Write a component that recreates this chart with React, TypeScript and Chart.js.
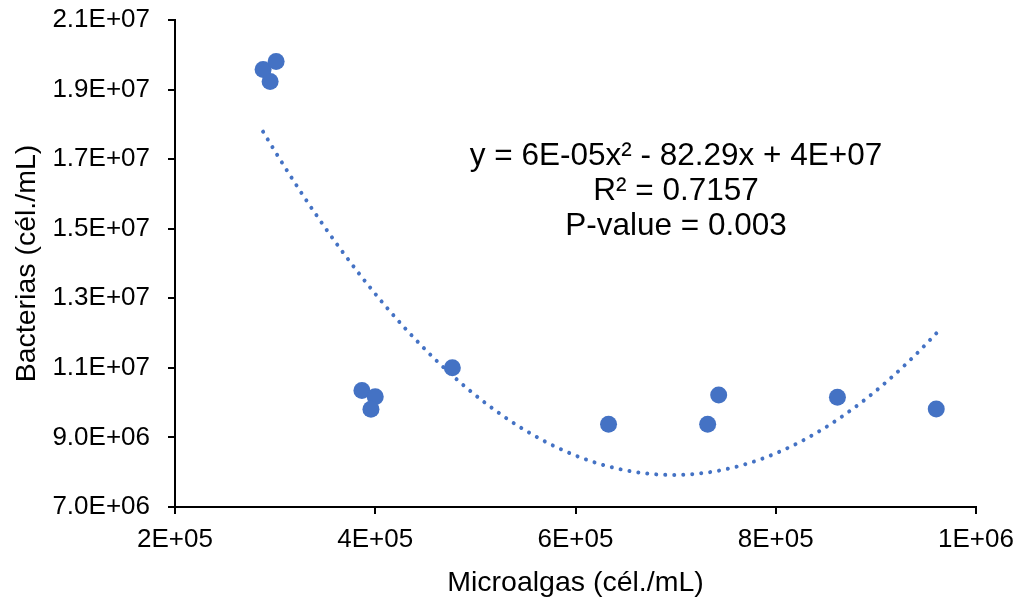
import React, { useEffect, useRef } from "react";
import { Chart, registerables } from "chart.js";

Chart.register(...registerables);

const microalgas: number[] = [288000, 301000, 295000, 386700, 400000, 395700, 477000, 633000, 732000, 743000, 861600, 960300];
const bacterias: number[] = [19580000, 19810000, 19230000, 10347000, 10170000, 9810000, 11000000, 9380000, 9380000, 10223000, 10157000, 9820000];

const xTickLabels: string[] = ["2E+05", "4E+05", "6E+05", "8E+05", "1E+06"];
const yTickLabels: string[] = ["7.0E+06", "9.0E+06", "1.1E+07", "1.3E+07", "1.5E+07", "1.7E+07", "1.9E+07", "2.1E+07"];

const annotationLines: string[] = ["y = 6E-05x² - 82.29x + 4E+07", "R² = 0.7157", "P-value = 0.003"];

const xTitle = "Microalgas (cél./mL)";
const yTitle = "Bacterias (cél./mL)";

const BLUE = "#4472C4";
const FONT = "'Liberation Sans', Arial, sans-serif";

// least-squares quadratic fit (Excel polynomial trendline, order 2)
function quadFit(xs: number[], ys: number[]) {
  const n = xs.length;
  const mx = xs.reduce((a, b) => a + b, 0) / n;
  const sx = 1e5;
  const u = xs.map((x) => (x - mx) / sx);
  let s1 = 0, s2 = 0, s3 = 0, s4 = 0, t0 = 0, t1 = 0, t2 = 0;
  for (let i = 0; i < n; i++) {
    const v = u[i], y = ys[i];
    s1 += v; s2 += v * v; s3 += v * v * v; s4 += v * v * v * v;
    t0 += y; t1 += v * y; t2 += v * v * y;
  }
  const M = [
    [n, s1, s2, t0],
    [s1, s2, s3, t1],
    [s2, s3, s4, t2],
  ];
  for (let c = 0; c < 3; c++) {
    let p = c;
    for (let r = c + 1; r < 3; r++) if (Math.abs(M[r][c]) > Math.abs(M[p][c])) p = r;
    [M[c], M[p]] = [M[p], M[c]];
    for (let r = 0; r < 3; r++) {
      if (r === c) continue;
      const f = M[r][c] / M[c][c];
      for (let k = c; k < 4; k++) M[r][k] -= f * M[c][k];
    }
  }
  return { c0: M[0][3] / M[0][0], c1: M[1][3] / M[1][1], c2: M[2][3] / M[2][2], mx, sx };
}

export default function App() {
  const ref = useRef<HTMLCanvasElement | null>(null);

  useEffect(() => {
    if (!ref.current) return;
    const { c0, c1, c2, mx, sx } = quadFit(microalgas, bacterias);
    const xmin = Math.min(...microalgas);
    const xmax = Math.max(...microalgas);
    const trend: { x: number; y: number }[] = [];
    const N = 120;
    for (let i = 0; i <= N; i++) {
      const x = xmin + ((xmax - xmin) * i) / N;
      const u = (x - mx) / sx;
      trend.push({ x, y: c0 + c1 * u + c2 * u * u });
    }

    const annotationPlugin = {
      id: "annot",
      afterDatasetsDraw(chart: any) {
        const ctx = chart.ctx;
        ctx.save();
        ctx.font = `31.5px ${FONT}`;
        ctx.fillStyle = "#000";
        ctx.textAlign = "center";
        ctx.textBaseline = "middle";
        const cx = 676;
        const ys = [156, 191, 226];
        annotationLines.forEach((t, i) => ctx.fillText(t, cx, ys[i]));
        ctx.restore();
      },
    };

    const chart = new Chart(ref.current, {
      type: "scatter",
      data: {
        datasets: [
          {
            type: "line",
            data: trend,
            borderColor: BLUE,
            borderWidth: 4,
            borderDash: [0.01, 9],
            borderCapStyle: "round",
            pointRadius: 0,
            fill: false,
            tension: 0,
            order: 2,
          } as any,
          {
            data: microalgas.map((x, i) => ({ x, y: bacterias[i] })),
            backgroundColor: BLUE,
            borderColor: BLUE,
            borderWidth: 0,
            pointRadius: 8.5,
            order: 1,
          },
        ],
      },
      options: {
        responsive: false,
        animation: false,
        events: [],
        layout: { padding: { left: 0, right: 47, top: 20, bottom: 0 } },
        plugins: { legend: { display: false }, tooltip: { enabled: false } },
        scales: {
          x: {
            type: "linear",
            min: 200000,
            max: 1000000,
            afterFit: (s: any) => {
              s.height = 97;
              s.paddingLeft = 0;
              s.paddingRight = 0;
            },
            ticks: {
              stepSize: 200000,
              color: "#000",
              padding: 10,
              font: { family: FONT, size: 26 },
              maxRotation: 0,
              callback: (_v: any, i: number) => xTickLabels[i],
            },
            grid: { drawOnChartArea: false, drawTicks: true, tickLength: 7, color: "#000", lineWidth: 2 },
            border: { display: true, color: "#000", width: 2 },
            title: {
              display: true,
              text: xTitle,
              color: "#000",
              font: { family: FONT, size: 28.5 },
              padding: { top: 0, bottom: 4 },
            },
          },
          y: {
            type: "linear",
            min: 7000000,
            max: 21000000,
            afterFit: (s: any) => {
              s.width = 175;
              s.paddingTop = 0;
              s.paddingBottom = 0;
            },
            ticks: {
              stepSize: 2000000,
              color: "#000",
              padding: 18,
              font: { family: FONT, size: 26 },
              callback: (_v: any, i: number) => yTickLabels[i],
            },
            grid: { drawOnChartArea: false, drawTicks: true, tickLength: 7, color: "#000", lineWidth: 2 },
            border: { display: true, color: "#000", width: 2 },
            title: {
              display: true,
              text: yTitle,
              color: "#000",
              font: { family: FONT, size: 28.5 },
              padding: { top: 10, bottom: 0 },
            },
          },
        },
      },
      plugins: [annotationPlugin],
    } as any);
    return () => chart.destroy();
  }, []);

  return (
    <div style={{ position: "absolute", left: 0, top: 0, width: 1023, height: 604, background: "#fff" }}>
      <canvas ref={ref} width={1023} height={604} />
    </div>
  );
}
